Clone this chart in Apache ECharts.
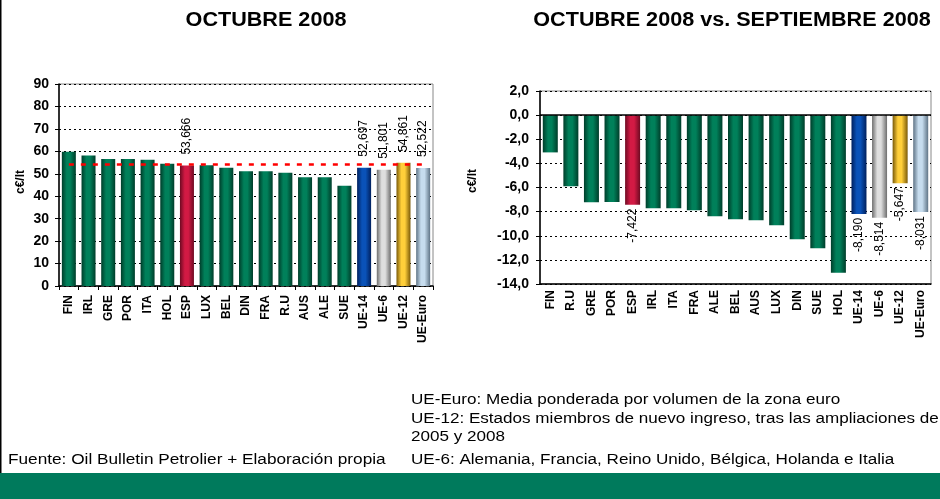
<!DOCTYPE html>
<html>
<head>
<meta charset="utf-8">
<script src="https://cdn.jsdelivr.net/npm/echarts@6/dist/echarts.min.js"></script>
<style>
html, body { margin: 0; padding: 0; background: #fff; }
#chart { width: 940px; height: 499px; }
</style>
</head>
<body>
<div id="chart"></div>
<script>
// Precio medio, octubre 2008 (c€/lt)
const octCategories = ['FIN', 'IRL', 'GRE', 'POR', 'ITA', 'HOL', 'ESP', 'LUX', 'BEL', 'DIN', 'FRA', 'R.U', 'AUS', 'ALE', 'SUE', 'UE-14', 'UE-6', 'UE-12', 'UE-Euro'];
const octPrices = [59.8, 58.1, 56.6, 56.6, 56.3, 54.5, 53.666, 53.8, 52.7, 51.1, 51.1, 50.5, 48.4, 48.4, 44.7, 52.697, 51.801, 54.861, 52.522];
const octReference = 54.3;
const octTicks = [0, 10, 20, 30, 40, 50, 60, 70, 80, 90];

// Variación octubre vs. septiembre 2008 (c€/lt)
const diffCategories = ['FIN', 'R.U', 'GRE', 'POR', 'ESP', 'IRL', 'ITA', 'FRA', 'ALE', 'BEL', 'AUS', 'LUX', 'DIN', 'SUE', 'HOL', 'UE-14', 'UE-6', 'UE-12', 'UE-Euro'];
const diffValues = [-3.09, -5.9, -7.22, -7.2, -7.422, -7.72, -7.71, -7.88, -8.38, -8.63, -8.71, -9.12, -10.28, -11.03, -13.06, -8.190, -8.514, -5.647, -8.031];
const diffTicks = [-14, -12, -10, -8, -6, -4, -2, 0, 2];

// Categories that carry a value label
const labelled = ['ESP', 'UE-14', 'UE-6', 'UE-12', 'UE-Euro'];

const notes = [
  'UE-Euro: Media ponderada por volumen de la zona euro',
  'UE-12: Estados miembros de nuevo ingreso, tras las ampliaciones de',
  '2005 y 2008',
  'UE-6: Alemania, Francia, Reino Unido, Bélgica, Holanda e Italia'
];
const source = 'Fuente: Oil Bulletin Petrolier + Elaboración propia';

// Cylinder-like shading: [edge, highlight]
const palette = {
  green: ['#003d2a', '#00805a'],
  red: ['#6e0a22', '#d21a44'],
  blue: ['#00205e', '#0a52b8'],
  grey: ['#6e6e6e', '#dedede'],
  gold: ['#7a5a08', '#ffcf3a'],
  light: ['#5f7486', '#c6dcee']
};
const specialColour = { 'ESP': 'red', 'UE-14': 'blue', 'UE-6': 'grey', 'UE-12': 'gold', 'UE-Euro': 'light' };

function shade(cat) {
  const c = palette[specialColour[cat] || 'green'];
  return new echarts.graphic.LinearGradient(0, 0, 1, 0, [
    { offset: 0, color: c[0] },
    { offset: 0.35, color: c[1] },
    { offset: 0.6, color: c[1] },
    { offset: 1, color: c[0] }
  ]);
}

const comma = (v, d) => v.toFixed(d).replace('.', ',');
const FONT = 'Liberation Sans, Arial, sans-serif';

function barData(cats, vals, below) {
  return cats.map((cat, i) => {
    const item = { value: vals[i], itemStyle: { color: shade(cat) } };
    if (labelled.includes(cat)) {
      item.label = {
        show: true,
        position: below ? 'bottom' : 'top',
        rotate: 90,
        align: below ? 'right' : 'left',
        verticalAlign: 'middle',
        distance: below ? 4 : 11,
        fontSize: 12,
        fontFamily: FONT,
        color: '#000',
        formatter: (p) => comma(p.value, 3)
      };
    }
    return item;
  });
}

const catAxisLabel = { interval: 0, rotate: 90, fontSize: 12, fontWeight: 'bold', fontFamily: FONT, color: '#000' };
const dotted = { show: true, lineStyle: { color: '#000', type: [2, 3], width: 1 } };

const option = {
  animation: false,
  backgroundColor: '#fff',
  grid: [
    { left: 59, top: 84, width: 374, height: 202, show: true, borderColor: '#888', borderWidth: 1, backgroundColor: 'transparent' },
    { left: 540, top: 91, width: 391, height: 193, show: true, borderColor: '#888', borderWidth: 1, backgroundColor: 'transparent' }
  ],
  xAxis: [
    {
      gridIndex: 0, type: 'category', data: octCategories,
      axisLine: { lineStyle: { color: '#000', width: 1.5 } },
      axisTick: { show: true, interval: 0, length: 4, lineStyle: { color: '#000' } },
      axisLabel: Object.assign({ margin: 9 }, catAxisLabel)
    },
    {
      gridIndex: 1, type: 'category', data: diffCategories,
      axisLine: { onZero: false, lineStyle: { color: '#000', width: 1.5 } },
      axisTick: { show: false },
      axisLabel: Object.assign({ margin: 6 }, catAxisLabel)
    }
  ],
  yAxis: [
    {
      gridIndex: 0, type: 'value', min: octTicks[0], max: octTicks[octTicks.length - 1], interval: 10,
      axisLine: { show: true, lineStyle: { color: '#000', width: 1.5 } },
      axisTick: { show: true, length: 4, lineStyle: { color: '#000' } },
      axisLabel: { fontSize: 14, fontWeight: 'bold', fontFamily: FONT, color: '#000', margin: 10 },
      splitLine: dotted
    },
    {
      gridIndex: 1, type: 'value', min: diffTicks[0], max: diffTicks[diffTicks.length - 1], interval: 2,
      axisLine: { show: true, lineStyle: { color: '#000', width: 1.5 } },
      axisTick: { show: true, length: 4, lineStyle: { color: '#000' } },
      axisLabel: { fontSize: 14, fontWeight: 'bold', fontFamily: FONT, color: '#000', margin: 11, formatter: (v) => comma(v, 1) },
      splitLine: dotted
    }
  ],
  series: [
    {
      type: 'bar', xAxisIndex: 0, yAxisIndex: 0, barWidth: 14,
      data: barData(octCategories, octPrices, false),
      markLine: {
        silent: true, symbol: 'none', label: { show: false },
        lineStyle: { color: '#ff0000', width: 2.5, type: [5, 7] },
        data: [[
          { coord: [octCategories[0], octReference] },
          { coord: [octCategories[octCategories.length - 1], octReference] }
        ]]
      },
      z: 3
    },
    {
      type: 'bar', xAxisIndex: 1, yAxisIndex: 1, barWidth: 15,
      data: barData(diffCategories, diffValues, true),
      markLine: {
        silent: true, symbol: 'none', label: { show: false },
        lineStyle: { color: '#000', width: 1.5, type: 'solid' },
        data: [{ yAxis: 0 }]
      },
      z: 3
    }
  ],
  graphic: [
    { type: 'rect', shape: { x: 0, y: 473, width: 940, height: 26 }, style: { fill: '#007a5c' } },
    { type: 'rect', shape: { x: 0, y: 0, width: 1.5, height: 473 }, style: { fill: '#000' } },
    { type: 'text', x: 266, y: 20, scaleX: 1.08, style: { text: 'OCTUBRE 2008', font: 'bold 20px ' + FONT, fill: '#000', textAlign: 'center', textVerticalAlign: 'middle' } },
    { type: 'text', x: 732, y: 20, scaleX: 1.08, style: { text: 'OCTUBRE 2008 vs. SEPTIEMBRE 2008', font: 'bold 20px ' + FONT, fill: '#000', textAlign: 'center', textVerticalAlign: 'middle' } },
    { type: 'text', x: 21, y: 182, rotation: Math.PI / 2, style: { text: 'c€/lt', font: 'bold 12px ' + FONT, fill: '#000', textAlign: 'center', textVerticalAlign: 'middle' } },
    { type: 'text', x: 473, y: 181, rotation: Math.PI / 2, style: { text: 'c€/lt', font: 'bold 12px ' + FONT, fill: '#000', textAlign: 'center', textVerticalAlign: 'middle' } },
    { type: 'text', x: 8, y: 460, scaleX: 1.23, style: { text: source, font: '14px ' + FONT, fill: '#000', textAlign: 'left', textVerticalAlign: 'middle' } },
    { type: 'text', x: 411, y: 400, scaleX: 1.22, style: { text: notes[0], font: '14px ' + FONT, fill: '#000', textAlign: 'left', textVerticalAlign: 'middle' } },
    { type: 'text', x: 411, y: 419, scaleX: 1.22, style: { text: notes[1], font: '14px ' + FONT, fill: '#000', textAlign: 'left', textVerticalAlign: 'middle' } },
    { type: 'text', x: 411, y: 437, scaleX: 1.22, style: { text: notes[2], font: '14px ' + FONT, fill: '#000', textAlign: 'left', textVerticalAlign: 'middle' } },
    { type: 'text', x: 411, y: 460, scaleX: 1.22, style: { text: notes[3], font: '14px ' + FONT, fill: '#000', textAlign: 'left', textVerticalAlign: 'middle' } }
  ]
};

const chart = echarts.init(document.getElementById('chart'), null, { renderer: 'canvas' });
chart.setOption(option);
</script>
</body>
</html>
